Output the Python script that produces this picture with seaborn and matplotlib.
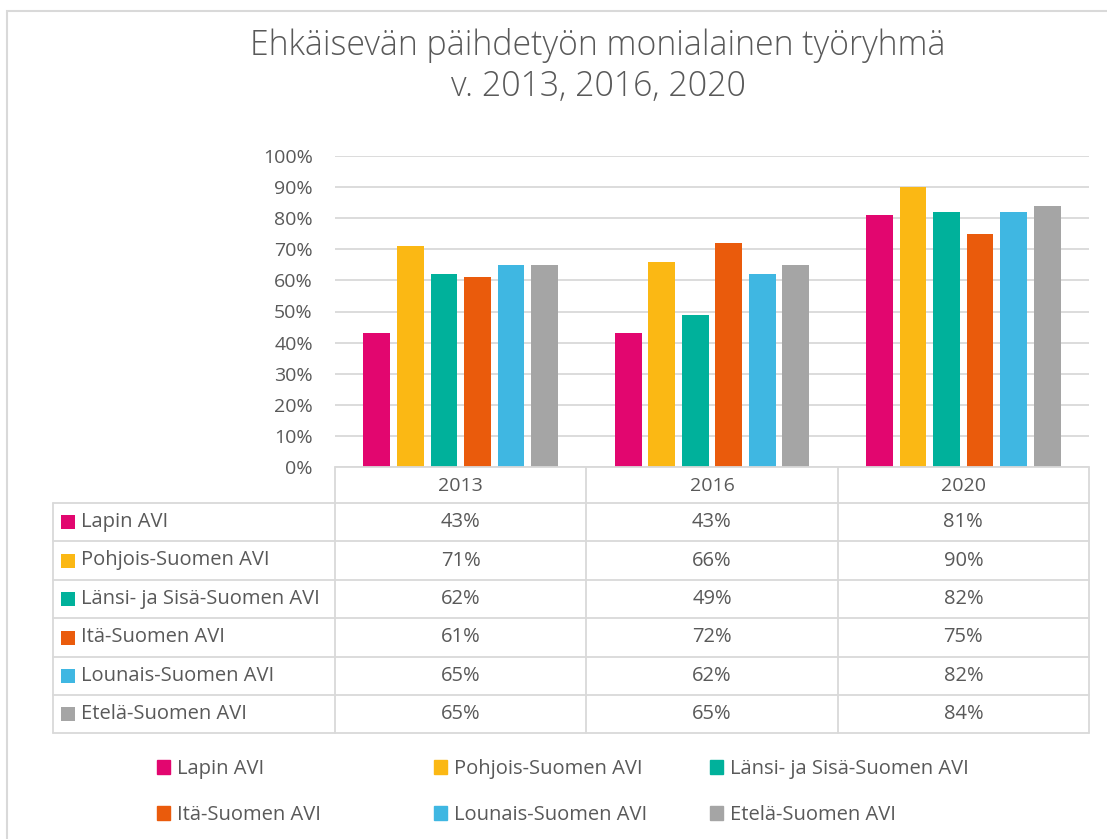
import pandas as pd
import matplotlib.pyplot as plt
import seaborn as sns
from matplotlib.patches import Patch, Rectangle
from matplotlib.transforms import blended_transform_factory

vuodet = ['2013', '2016', '2020']
alueet = ['Lapin AVI', 'Pohjois-Suomen AVI', 'Länsi- ja Sisä-Suomen AVI',
          'Itä-Suomen AVI', 'Lounais-Suomen AVI', 'Etelä-Suomen AVI']
lapin = [43, 43, 81]
pohjois = [71, 66, 90]
lansi = [62, 49, 82]
ita = [61, 72, 75]
lounais = [65, 62, 82]
etela = [65, 65, 84]
varit = ['#E2066F', '#FBB814', '#00B19B', '#EA5B0C', '#3FB7E2', '#A5A5A5']

arvot = [lapin, pohjois, lansi, ita, lounais, etela]
rows = []
for alue, sarja in zip(alueet, arvot):
    for v, a in zip(vuodet, sarja):
        rows.append({'Vuosi': v, 'Alue': alue, 'Osuus': a})
df = pd.DataFrame(rows)

sns.set_style('white')
plt.rcParams['font.family'] = ['Open Sans', 'DejaVu Sans']
harmaa = '#595959'
viiva = '#D9D9D9'

W, H = 1107, 839
fig = plt.figure(figsize=(W / 100, H / 100), dpi=100)
ax = fig.add_axes([335 / W, 1 - 467 / H, 754 / W, 311 / H])

sns.barplot(data=df, x='Vuosi', y='Osuus', hue='Alue', hue_order=alueet,
            palette=varit, saturation=1, width=0.8, gap=0.2, linewidth=0,
            legend=False, ax=ax)

ax.set_ylim(0, 100)
ax.set_yticks(range(0, 101, 10))
ax.set_yticklabels([f'{t}%' for t in range(0, 101, 10)])
ax.set_xlim(-0.5, 2.5)
ax.grid(axis='y', color=viiva, lw=1.3)
ax.set_axisbelow(True)
for s in ax.spines.values():
    s.set_visible(False)
ax.tick_params(axis='both', length=0, labelsize=14, labelcolor=harmaa)
ax.tick_params(axis='y', pad=16)
ax.tick_params(axis='x', pad=7)
ax.set_xlabel('')
ax.set_ylabel('')

# Taulukko kaavion alla
tr = blended_transform_factory(ax.transData, fig.transFigure)
fy = lambda p: 1 - p / H
x_vasen = -0.5 - 282 / 251.3
rivit_y = [503, 541, 580, 618, 657, 695, 733]
for yp in rivit_y:
    ax.plot([x_vasen, 2.5], [fy(yp), fy(yp)], transform=tr, color=viiva, lw=1.3, clip_on=False)
ax.plot([-0.5, 2.5], [fy(467), fy(467)], transform=tr, color=viiva, lw=1.3, clip_on=False)
ax.plot([x_vasen, x_vasen], [fy(503), fy(733)], transform=tr, color=viiva, lw=1.3, clip_on=False)
for xr in [-0.5, 0.5, 1.5, 2.5]:
    ax.plot([xr, xr], [fy(467), fy(733)], transform=tr, color=viiva, lw=1.3, clip_on=False)

for i, (alue, sarja, c) in enumerate(zip(alueet, arvot, varit)):
    yc = (rivit_y[i] + rivit_y[i + 1]) / 2
    fig.add_artist(Rectangle((61 / W, fy(yc + 7)), 14 / W, 14 / H, color=c, lw=0))
    fig.text(81 / W, fy(yc), alue, ha='left', va='center', fontsize=14.5, color=harmaa)
    for j, a in enumerate(sarja):
        ax.text(j, fy(yc), f'{a}%', transform=tr, ha='center', va='center',
                fontsize=14.5, color=harmaa)

# Selite alareunassa
kahvat = [Patch(color=c, label=a) for a, c in zip(alueet, varit)]
for k, xs in enumerate([157, 434, 710]):
    fig.legend(handles=kahvat[k::3], loc='upper left', bbox_to_anchor=(xs / W, fy(759)),
               frameon=False, fontsize=14.5, labelcolor=harmaa, handlelength=0.65,
               handleheight=0.65, handletextpad=0.35, labelspacing=1.3,
               borderpad=0, borderaxespad=0)

fig.text(598 / W, fy(66), 'Ehkäisevän päihdetyön monialainen työryhmä\nv. 2013, 2016, 2020',
         ha='center', va='center', fontsize=24.4, color=harmaa, linespacing=1.28,
         fontweight='light')

fig.add_artist(Rectangle((7 / W, -0.1), 1.2, fy(11) + 0.1, fill=False,
                         edgecolor=viiva, lw=1.5))

fig.savefig('out.png', dpi=100)
